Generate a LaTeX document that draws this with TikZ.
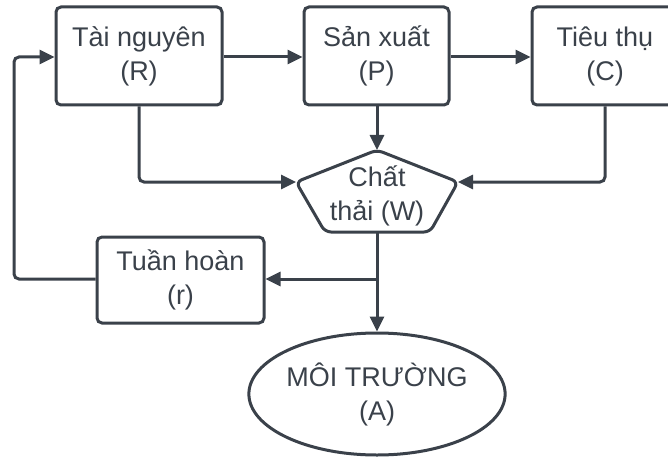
\documentclass[tikz,border=0pt]{standalone}
\usepackage{fontspec}
\setmainfont{Liberation Sans}
\usetikzlibrary{arrows.meta,shapes.geometric}
\definecolor{ink}{HTML}{3A414A}
\begin{document}
\begin{tikzpicture}[x=1pt,y=-1pt,
  label text/.style={font=\fontsize{27}{34}\selectfont, text=ink, align=center},
  box/.style={label text, draw=ink, line width=3pt, rounded corners=5pt,
    minimum height=98pt, inner sep=0pt},
  flow/.style={draw=ink, line width=3pt, rounded corners=5pt,
    -{Triangle[length=15pt,width=14pt]}},
  link/.style={draw=ink, line width=3pt, rounded corners=5pt}]
\useasboundingbox (0,0) rectangle (668,457);

% process boxes
\node[box, minimum width=166pt] (R) at (139,56) {Tài nguyên\\(R)};
\node[box, minimum width=145pt] (P) at (376.5,56) {Sản xuất\\(P)};
\node[box, minimum width=146pt] (C) at (605,56) {Tiêu thụ\\(C)};
\node[box, minimum width=167pt, minimum height=86pt] (T) at (180.5,280) {Tuần hoàn\\(r)};

% waste pentagon
\coordinate (wt) at (377,150);
\coordinate (wr) at (458,182);
\coordinate (wbr) at (430,232);
\coordinate (wbl) at (325,232);
\coordinate (wl) at (296,182);
\draw[link, rounded corners=6pt] (wt) -- (wr) -- (wbr) -- (wbl) -- (wl) -- cycle;
\node[label text] (W) at (377,196) {Chất\\thải (W)};

% environment
\node[label text, draw=ink, line width=3pt, ellipse, minimum width=248pt,
  minimum height=122pt, inner sep=0pt] (A) at (377,394) {MÔI TRƯỜNG\\(A)};

% connectors
\draw[flow] (R.east |- 0,57) -- (P.west |- 0,57);
\draw[flow] (P.east |- 0,57) -- (C.west |- 0,57);
\draw[flow] (P.south -| wt) -- (wt);
\draw[flow] (R.south) |- (wl);
\draw[flow] (C.south) |- (wr);
\coordinate (split) at (377,279);
\draw[flow] (377,232) -- (A.north);
\draw[flow] (split) -- (T.east |- split);
\coordinate (back) at (14,279);
\draw[flow] (T.west |- split) -- (back) |- (R.west |- 0,57);
\end{tikzpicture}
\end{document}
